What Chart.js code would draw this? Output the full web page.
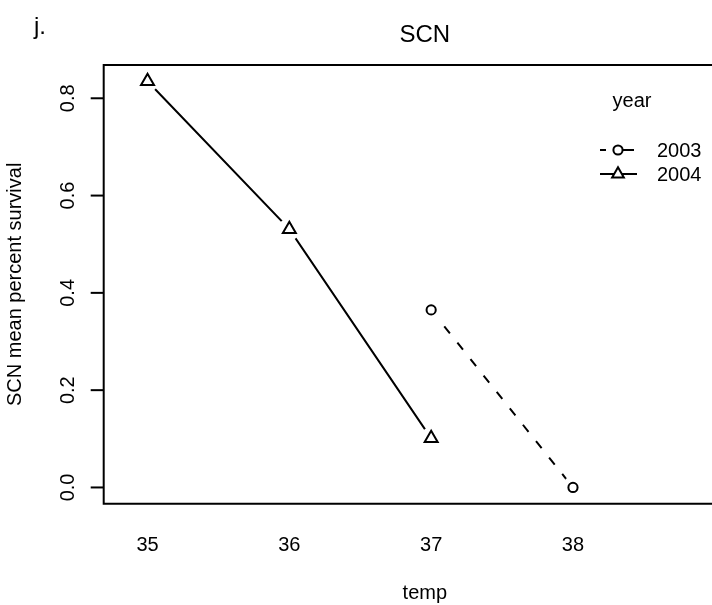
<!DOCTYPE html>
<html>
<head>
<meta charset="utf-8">
<script src="https://cdn.jsdelivr.net/npm/chart.js@4/dist/chart.umd.min.js"></script>
<style>
  html, body { margin: 0; padding: 0; background: #fff; overflow: hidden; width: 712px; height: 605px; }
  canvas { display: block; }
</style>
</head>
<body>
<canvas id="c" width="760" height="605"></canvas>
<script>
// Temperature levels (x) and mean survival per year
const temps = [35, 36, 37, 38];
const survival2003 = [null, null, 0.365, 0.0];
const survival2004 = [0.835, 0.531, 0.101, null];
const years = ['2003', '2004'];
const yTicks = [0.0, 0.2, 0.4, 0.6, 0.8];
const xTicks = [35, 36, 37, 38];

const FONT = '"Liberation Sans", Arial, Helvetica, sans-serif';

function pts(vals) {
  const out = [];
  vals.forEach((v, i) => { if (v !== null) out.push({ x: temps[i], y: v }); });
  return out;
}

const series = [
  { label: years[0], values: survival2003, dash: [9, 12], style: 'circle', radius: 4.6 },
  { label: years[1], values: survival2004, dash: [], style: 'triangle', radius: 7.5 }
];

const datasets = [];
series.forEach(s => {
  // connecting line
  datasets.push({ label: s.label, data: pts(s.values), showLine: true, borderColor: '#000',
    borderWidth: 2, borderDash: s.dash, pointRadius: 0, order: 3 });
  // white gap around each point (type "b" look)
  datasets.push({ label: s.label + ' gap', data: pts(s.values), showLine: false,
    pointRadius: 11, pointBorderWidth: 0, pointBackgroundColor: '#fff', pointBorderColor: '#fff', order: 2 });
  // markers
  datasets.push({ label: s.label + ' pts', data: pts(s.values), showLine: false,
    pointStyle: s.style, pointRadius: s.radius, pointBorderWidth: 2,
    pointBorderColor: '#000', pointBackgroundColor: '#fff', order: 1 });
});

const frame = {
  id: 'frame',
  afterDraw(chart) {
    const ctx = chart.ctx;
    const a = chart.chartArea;
    const xs = chart.scales.x, ys = chart.scales.y;
    ctx.save();
    ctx.strokeStyle = '#000';
    ctx.fillStyle = '#000';
    ctx.lineWidth = 2;
    // plot box
    ctx.beginPath();
    ctx.rect(a.left, a.top, a.right - a.left, a.bottom - a.top);
    ctx.stroke();

    // y axis ticks and rotated labels
    ctx.font = '20px ' + FONT;
    yTicks.forEach(t => {
      const y = ys.getPixelForValue(t);
      ctx.beginPath();
      ctx.moveTo(a.left - 13, y);
      ctx.lineTo(a.left, y);
      ctx.stroke();
      ctx.save();
      ctx.translate(a.left - 30, y);
      ctx.rotate(-Math.PI / 2);
      ctx.textAlign = 'center';
      ctx.textBaseline = 'alphabetic';
      ctx.fillText(t.toFixed(1), 0, 0);
      ctx.restore();
    });

    // x axis labels (no tick marks)
    ctx.textAlign = 'center';
    ctx.textBaseline = 'alphabetic';
    xTicks.forEach(t => {
      ctx.fillText(String(t), xs.getPixelForValue(t), a.bottom + 47);
    });

    // axis titles
    ctx.fillText('temp', (a.left + a.right) / 2, a.bottom + 95);
    ctx.save();
    ctx.translate(a.left - 83, (a.top + a.bottom) / 2);
    ctx.rotate(-Math.PI / 2);
    ctx.fillText('SCN mean percent survival', 0, 0);
    ctx.restore();

    // main title and panel letter
    ctx.font = '24px ' + FONT;
    ctx.fillText('SCN', (a.left + a.right) / 2, 42);
    ctx.textAlign = 'left';
    ctx.fillText('j.', 34, 34);

    // legend
    ctx.font = '20px ' + FONT;
    ctx.textAlign = 'center';
    ctx.fillText('year', 632, 107);
    ctx.textAlign = 'left';
    series.forEach((s, i) => {
      const y = 150 + i * 24;
      const x0 = 600, x1 = 637, xm = 618;
      ctx.save();
      ctx.lineWidth = 2;
      if (s.dash.length) {
        // short dash, gap, marker, short stroke
        ctx.beginPath();
        ctx.moveTo(x0, y); ctx.lineTo(x0 + 6, y);
        ctx.moveTo(xm + 5, y); ctx.lineTo(x1 - 3, y);
        ctx.stroke();
      } else {
        ctx.beginPath();
        ctx.moveTo(x0, y);
        ctx.lineTo(x1, y);
        ctx.stroke();
      }
      if (s.style === 'circle') {
        ctx.fillStyle = '#fff';
        ctx.beginPath();
        ctx.arc(xm, y, s.radius, 0, Math.PI * 2);
        ctx.fill();
        ctx.stroke();
      } else {
        const r = s.radius * 0.9;
        ctx.fillStyle = '#fff';
        ctx.beginPath();
        ctx.moveTo(xm, y - r);
        ctx.lineTo(xm + r * Math.sqrt(3) / 2, y + r / 2);
        ctx.lineTo(xm - r * Math.sqrt(3) / 2, y + r / 2);
        ctx.closePath();
        ctx.fill();
        ctx.stroke();
      }
      ctx.restore();
      ctx.fillText(s.label, 657, y + 7);
    });
    ctx.restore();
  }
};

new Chart(document.getElementById('c'), {
  type: 'scatter',
  data: { datasets },
  options: {
    responsive: false,
    animation: false,
    events: [],
    layout: { padding: { left: 103.7, top: 65, right: 14, bottom: 101.3 } },
    plugins: { legend: { display: false }, tooltip: { enabled: false } },
    scales: {
      x: { type: 'linear', display: false, min: 34.691, max: 39.22 },
      y: { type: 'linear', display: false, min: -0.0334, max: 0.8684 }
    }
  },
  plugins: [frame]
});
</script>
</body>
</html>
